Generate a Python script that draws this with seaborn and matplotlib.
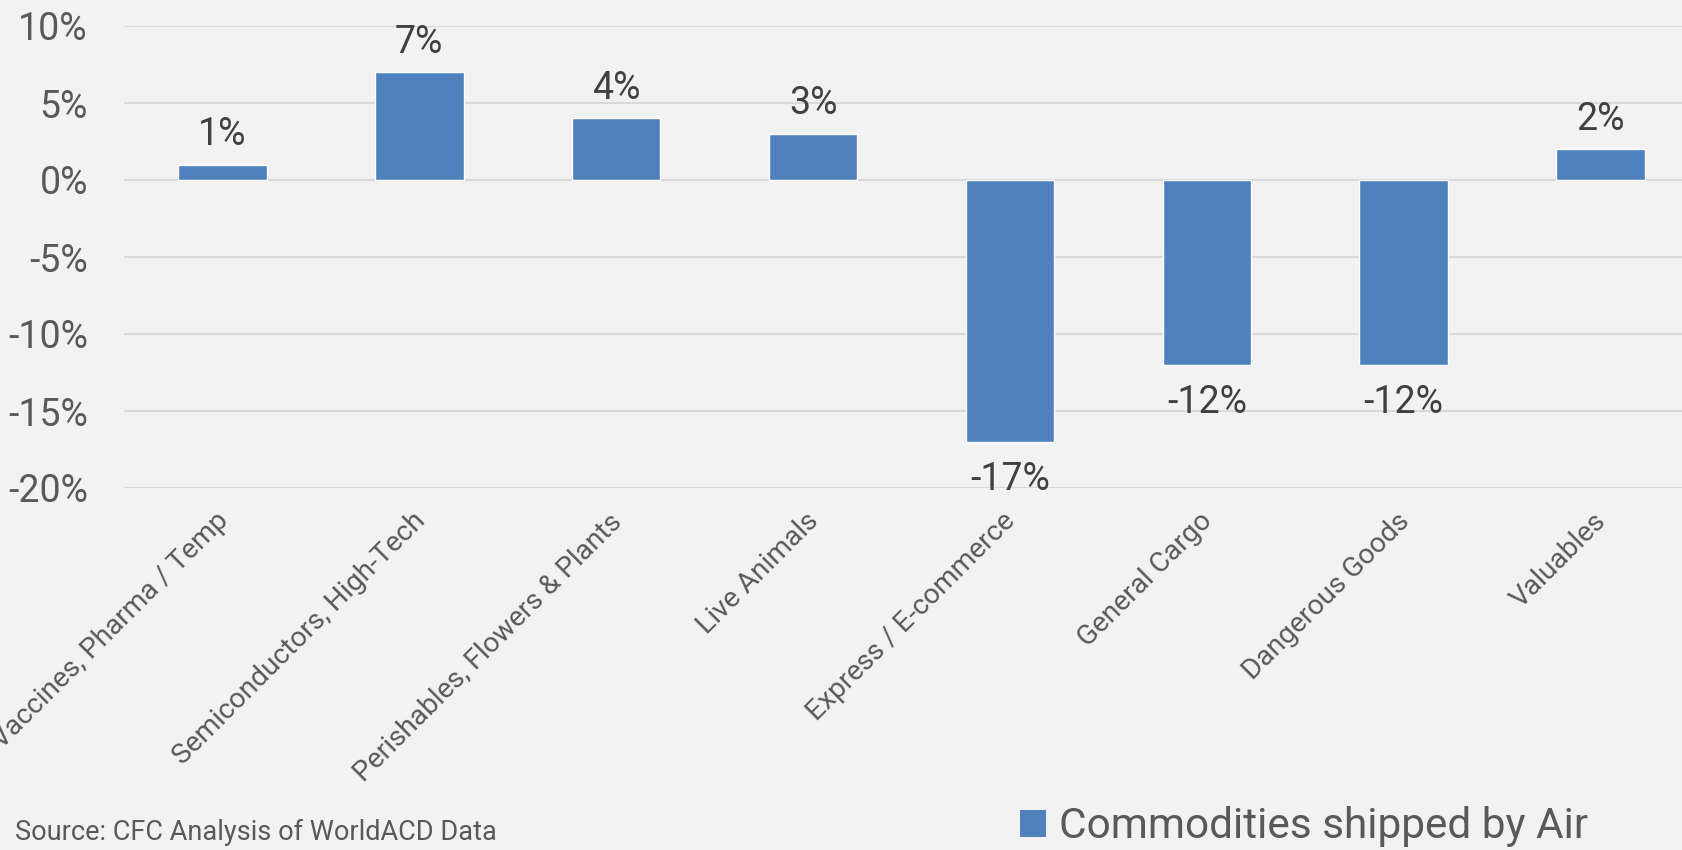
import matplotlib
matplotlib.use("Agg")
import matplotlib.pyplot as plt
import matplotlib.transforms as mtransforms
import seaborn as sns
import pandas as pd
from matplotlib.patches import Patch

categories = [
    "Vaccines, Pharma / Temp",
    "Semiconductors, High-Tech",
    "Perishables, Flowers & Plants",
    "Live Animals",
    "Express / E-commerce",
    "General Cargo",
    "Dangerous Goods",
    "Valuables",
]
growth = [1, 7, 4, 3, -17, -12, -12, 2]
y_ticks = [-20, -15, -10, -5, 0, 5, 10]
series_name = "Commodities shipped by Air"
source_note = "Source: CFC Analysis of WorldACD Data"

BG = "#f2f2f2"
BAR = "#4f81bd"
GRID = "#d9d9d9"
TICK_C = "#595959"
LABEL_C = "#404040"

sns.set_theme(style="white")
plt.rcParams["font.family"] = ["Roboto", "DejaVu Sans"]

W, H, DPI = 1683, 850, 100
fig = plt.figure(figsize=(W / DPI, H / DPI), dpi=DPI, facecolor=BG)
ax = fig.add_axes([124 / W, (H - 488) / H, 1575 / W, (488 - 26) / H])
ax.set_facecolor(BG)

df = pd.DataFrame({"category": categories, "growth": growth})
sns.barplot(data=df, x="category", y="growth", color=BAR, saturation=1,
            width=0.45, ax=ax, zorder=3)

ax.set_xlim(-0.5, len(categories) - 0.5)
ax.set_ylim(min(y_ticks), max(y_ticks))
ax.set_yticks(y_ticks)
ax.set_yticklabels([f"{t}%" for t in y_ticks])
ax.yaxis.grid(True, color=GRID, linewidth=1.5, zorder=0)
ax.set_axisbelow(True)
for s in ax.spines.values():
    s.set_visible(False)
ax.set_xlabel("")
ax.set_ylabel("")
ax.tick_params(axis="y", length=0, pad=26, labelsize=27, labelcolor=TICK_C)
ax.tick_params(axis="x", length=0, pad=14, labelsize=20.25, labelcolor=TICK_C)
shift = mtransforms.ScaledTranslation(-8 / DPI, 0, fig.dpi_scale_trans)
for lbl in ax.get_xticklabels():
    lbl.set_rotation(45)
    lbl.set_ha("right")
    lbl.set_rotation_mode("anchor")
    lbl.set_transform(lbl.get_transform() + shift)

# value labels above / below each bar
for i, v in enumerate(growth):
    if v >= 0:
        ax.annotate(f"{v}%", (i, v), xytext=(0, 14), textcoords="offset points",
                    ha="center", va="baseline", fontsize=27, color=LABEL_C)
    else:
        ax.annotate(f"{v}%", (i, v), xytext=(0, -14), textcoords="offset points",
                    ha="center", va="top", fontsize=27, color=LABEL_C)

fig.text(15 / W, (H - 840) / H, source_note, fontsize=19.5, color=TICK_C,
         ha="left", va="baseline")

handle = Patch(facecolor=BAR, edgecolor="none")
fig.legend([handle], [series_name], loc="lower left",
           bbox_to_anchor=(990 / W, -27 / H), frameon=False, fontsize=30.5,
           labelcolor=TICK_C, handlelength=0.62, handleheight=0.62,
           handletextpad=0.3, borderpad=0.2)

fig.savefig("out.png", dpi=DPI, facecolor=BG)
